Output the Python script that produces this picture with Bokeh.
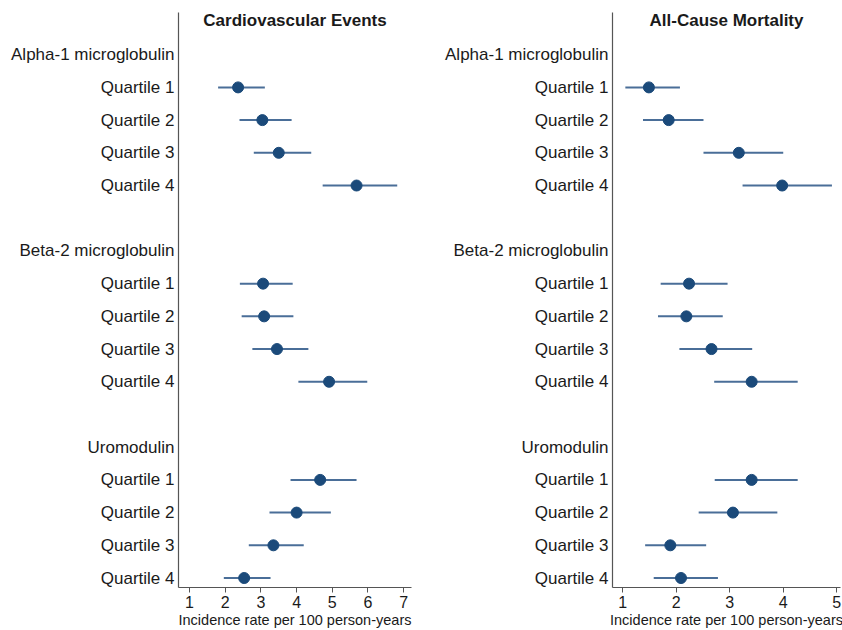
from bokeh.plotting import figure
from bokeh.models import Range1d, FixedTicker, Label, ColumnDataSource
from bokeh.layouts import row
from bokeh.embed import file_html
from bokeh.resources import INLINE

groups = ["Alpha-1 microglobulin", "Beta-2 microglobulin", "Uromodulin"]
quartiles = ["Quartile 1", "Quartile 2", "Quartile 3", "Quartile 4"]

cv_est = [2.36, 3.04, 3.50, 5.68, 3.06, 3.09, 3.45, 4.91, 4.66, 4.00, 3.35, 2.53]
cv_lo = [1.80, 2.40, 2.80, 4.73, 2.41, 2.46, 2.76, 4.05, 3.83, 3.24, 2.66, 1.96]
cv_hi = [3.11, 3.86, 4.41, 6.82, 3.89, 3.91, 4.33, 5.98, 5.68, 4.96, 4.20, 3.27]

mort_est = [1.49, 1.86, 3.17, 3.98, 2.24, 2.19, 2.66, 3.41, 3.41, 3.06, 1.89, 2.09]
mort_lo = [1.05, 1.38, 2.51, 3.24, 1.71, 1.66, 2.06, 2.71, 2.72, 2.42, 1.42, 1.58]
mort_hi = [2.07, 2.51, 4.00, 4.91, 2.96, 2.87, 3.42, 4.27, 4.27, 3.89, 2.56, 2.78]

cv_ticks = [1, 2, 3, 4, 5, 6, 7]
mort_ticks = [1, 2, 3, 4, 5]

titles = ["Cardiovascular Events", "All-Cause Mortality"]
x_title = "Incidence rate per 100 person-years"

FONT = "Liberation Sans"
DOT = "#1b4a7a"
WHISK = "#4a6e98"
AXIS = "#555555"
TXT = "#1a1a1a"

# row layout: header row then 4 quartile rows, blank row between groups
tick_rows = []
tick_labels = {}
data_rows = []
for g, name in enumerate(groups):
    base = 6 * g
    tick_rows.append(base)
    tick_labels[base] = name
    for q, qn in enumerate(quartiles):
        r = base + 1 + q
        tick_rows.append(r)
        tick_labels[r] = qn
        data_rows.append(r)


def make_panel(title, est, lo, hi, xticks, xr, width, mbl, mbr):
    p = figure(width=width, height=630, output_backend="svg", toolbar_location=None,
               x_range=Range1d(*xr), y_range=Range1d(16.29, -1.29),
               min_border_left=mbl, min_border_right=mbr, min_border_top=12,
               min_border_bottom=0)
    p.outline_line_color = None
    p.xgrid.grid_line_color = None
    p.ygrid.grid_line_color = None
    p.background_fill_color = "white"
    p.border_fill_color = "white"

    src = ColumnDataSource(dict(y=data_rows, est=est, lo=lo, hi=hi))
    p.segment(x0="lo", y0="y", x1="hi", y1="y", source=src,
              line_color=WHISK, line_width=2)
    p.scatter(x="est", y="y", source=src, size=11, fill_color=DOT,
              line_color=DOT)

    ya = p.yaxis[0]
    ya.ticker = FixedTicker(ticks=tick_rows)
    ya.major_label_overrides = {k: v for k, v in tick_labels.items()}
    ya.major_tick_line_color = None
    ya.minor_tick_line_color = None
    ya.major_tick_in = 0
    ya.major_tick_out = 0
    ya.major_label_standoff = 4
    ya.major_label_text_font = FONT
    ya.major_label_text_font_size = "17px"
    ya.major_label_text_color = TXT
    ya.axis_line_color = AXIS
    ya.axis_line_width = 1.2

    xa = p.xaxis[0]
    xa.ticker = FixedTicker(ticks=xticks)
    xa.minor_tick_line_color = None
    xa.major_tick_in = 0
    xa.major_tick_out = 5
    xa.major_tick_line_color = AXIS
    xa.axis_line_color = AXIS
    xa.axis_line_width = 1.2
    xa.major_label_standoff = 3
    xa.major_label_text_font = FONT
    xa.major_label_text_font_size = "16px"
    xa.major_label_text_color = TXT
    xa.axis_label = x_title
    xa.axis_label_standoff = 1
    xa.axis_label_text_font = FONT
    xa.axis_label_text_font_size = "14.5px"
    xa.axis_label_text_font_style = "normal"
    xa.axis_label_text_color = TXT

    p.add_layout(Label(x=(xr[0] + xr[1]) / 2, y=-1.04, text=title,
                       text_align="center", text_baseline="middle",
                       text_font=FONT, text_font_size="17px",
                       text_font_style="bold", text_color=TXT))
    return p


p1 = make_panel(titles[0], cv_est, cv_lo, cv_hi, cv_ticks, (0.69, 7.22), 420, 178, 9)
p2 = make_panel(titles[1], mort_est, mort_lo, mort_hi, mort_ticks, (0.81, 5.07), 422, 192, 2)

layout = row(p1, p2)
open("out.html", "w").write(file_html(layout, INLINE))
